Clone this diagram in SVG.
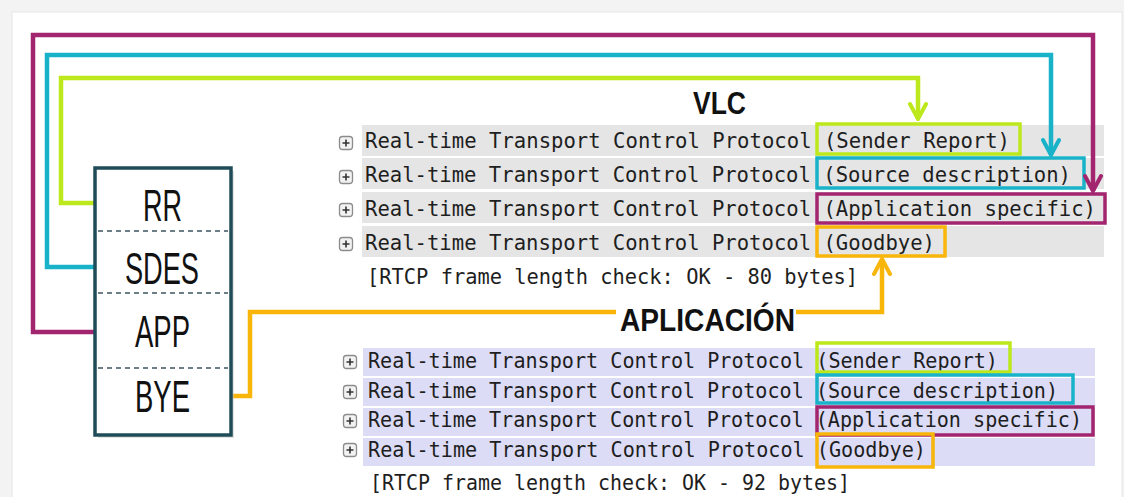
<svg xmlns="http://www.w3.org/2000/svg" width="1124" height="497" viewBox="0 0 1124 497">
<style>
.row{font-family:"DejaVu Sans Mono","Liberation Mono",monospace;font-size:21.5px;fill:#1e1e1e}
.lbl{font-family:"Liberation Sans",Arial,sans-serif;font-size:45px;fill:#111}
.title{font-family:"Liberation Sans",Arial,sans-serif;font-weight:bold;font-size:32px;fill:#111}
.conn{fill:none;stroke-width:4.5;stroke-linejoin:miter}
.hl{fill:none;stroke-width:3.5}
.vlcbg{fill:#e5e5e5}
.appbg{fill:#dcdcf6}
.sep{stroke:#6d7f86;stroke-width:2;stroke-dasharray:5 4}
</style>
<defs>
<marker id="ag" viewBox="0 0 20 20" refX="18" refY="10" markerWidth="20" markerHeight="20" markerUnits="userSpaceOnUse" orient="auto"><path d="M3,2 L18,10 L3,18" fill="none" stroke="#bde81c" stroke-width="4" stroke-linecap="round"/></marker>
<marker id="ac" viewBox="0 0 20 20" refX="18" refY="10" markerWidth="20" markerHeight="20" markerUnits="userSpaceOnUse" orient="auto"><path d="M3,2 L18,10 L3,18" fill="none" stroke="#18b2c9" stroke-width="4" stroke-linecap="round"/></marker>
<marker id="am" viewBox="0 0 20 20" refX="18" refY="10" markerWidth="20" markerHeight="20" markerUnits="userSpaceOnUse" orient="auto"><path d="M3,2 L18,10 L3,18" fill="none" stroke="#a3246f" stroke-width="4" stroke-linecap="round"/></marker>
<marker id="ao" viewBox="0 0 20 20" refX="18" refY="10" markerWidth="20" markerHeight="20" markerUnits="userSpaceOnUse" orient="auto"><path d="M3,2 L18,10 L3,18" fill="none" stroke="#f8b50a" stroke-width="4" stroke-linecap="round"/></marker>
<g id="plus">
<rect x="-6.5" y="-6.5" width="13" height="13" rx="3" fill="#f2f2f2" stroke="#8c8c8c" stroke-width="1.3"/>
<path d="M-3.5,0 H3.5 M0,-3.5 V3.5" stroke="#333" stroke-width="1.6"/>
</g>
</defs>
<rect width="1124" height="497" fill="#f3f3f3"/>
<rect x="12" y="12" width="1110" height="490" fill="#ffffff" stroke="#e6e6e6" stroke-width="1"/>

<g id="vlc-capture">
<rect class="vlcbg" x="362" y="125" width="742" height="31"/>
<rect class="vlcbg" x="362" y="158" width="742" height="31"/>
<rect class="vlcbg" x="362" y="192" width="742" height="31"/>
<rect class="vlcbg" x="362" y="226" width="742" height="31"/>
<use href="#plus" x="346" y="143"/>
<use href="#plus" x="346" y="177"/>
<use href="#plus" x="346" y="210"/>
<use href="#plus" x="346" y="244"/>
<text class="row" x="365" y="148" textLength="645" lengthAdjust="spacingAndGlyphs">Real-time Transport Control Protocol (Sender Report)</text>
<text class="row" x="365" y="182" textLength="706" lengthAdjust="spacingAndGlyphs">Real-time Transport Control Protocol (Source description)</text>
<text class="row" x="365" y="216" textLength="731" lengthAdjust="spacingAndGlyphs">Real-time Transport Control Protocol (Application specific)</text>
<text class="row" x="365" y="250" textLength="570" lengthAdjust="spacingAndGlyphs">Real-time Transport Control Protocol (Goodbye)</text>
<text class="row" x="367" y="284" textLength="491" lengthAdjust="spacingAndGlyphs">[RTCP frame length check: OK - 80 bytes]</text>
<rect class="hl" x="817" y="124" width="203" height="30" stroke="#bde81c"/>
<rect class="hl" x="817" y="158" width="267" height="30" stroke="#18b2c9"/>
<rect class="hl" x="817" y="194" width="288" height="29" stroke="#a3246f"/>
<rect class="hl" x="817" y="227" width="128" height="29" stroke="#f8b50a"/>
</g>

<g id="app-capture">
<rect class="appbg" x="363" y="348" width="732" height="28"/>
<rect class="appbg" x="363" y="378" width="732" height="28"/>
<rect class="appbg" x="363" y="408" width="732" height="28"/>
<rect class="appbg" x="363" y="438" width="732" height="28"/>
<use href="#plus" x="350" y="362"/>
<use href="#plus" x="350" y="392"/>
<use href="#plus" x="350" y="421"/>
<use href="#plus" x="350" y="450"/>
<text class="row" x="368" y="368" textLength="630" lengthAdjust="spacingAndGlyphs" style="font-size:21px">Real-time Transport Control Protocol (Sender Report)</text>
<text class="row" x="368" y="398" textLength="690" lengthAdjust="spacingAndGlyphs" style="font-size:21px">Real-time Transport Control Protocol (Source description)</text>
<text class="row" x="368" y="427" textLength="714" lengthAdjust="spacingAndGlyphs" style="font-size:21px">Real-time Transport Control Protocol (Application specific)</text>
<text class="row" x="368" y="457" textLength="558" lengthAdjust="spacingAndGlyphs" style="font-size:21px">Real-time Transport Control Protocol (Goodbye)</text>
<text class="row" x="370" y="490" textLength="480" lengthAdjust="spacingAndGlyphs" style="font-size:21px">[RTCP frame length check: OK - 92 bytes]</text>
<rect class="hl" x="817" y="343" width="193" height="29" stroke="#bde81c"/>
<rect class="hl" x="817" y="375" width="256" height="28" stroke="#18b2c9"/>
<rect class="hl" x="817" y="407" width="276" height="28" stroke="#a3246f"/>
<rect class="hl" x="817" y="434" width="116" height="33" stroke="#f8b50a"/>
</g>

<g id="connectors">
<path class="conn" d="M95,203 H61 V78 H918 V119" stroke="#bde81c" marker-end="url(#ag)"/>
<path class="conn" d="M95,267 H47 V55 H1051 V155" stroke="#18b2c9" marker-end="url(#ac)"/>
<path class="conn" d="M95,332 H33 V35 H1093 V191" stroke="#a3246f" marker-end="url(#am)"/>
<path class="conn" d="M231,396 H250 V312 H882 V259" stroke="#f8b50a" marker-end="url(#ao)"/>
</g>

<g id="title-vlc">
<text class="title" x="693" y="114" textLength="53" lengthAdjust="spacingAndGlyphs">VLC</text>
</g>
<g id="title-app">
<rect x="616" y="300" width="180" height="34" fill="#ffffff"/>
<text class="title" x="620" y="331" textLength="175" lengthAdjust="spacingAndGlyphs">APLICACIÓN</text>
</g>

<g id="rtcp-box">
<rect x="98" y="171" width="136" height="267" fill="#c8c8c8" opacity="0.5"/>
<rect x="95" y="168" width="136" height="267" fill="#ffffff" stroke="#1f4c58" stroke-width="3.5"/>
<line class="sep" x1="98" y1="231" x2="228" y2="231"/>
<line class="sep" x1="98" y1="293" x2="228" y2="293"/>
<line class="sep" x1="98" y1="368" x2="228" y2="368"/>
<text class="lbl" x="143" y="221" textLength="39" lengthAdjust="spacingAndGlyphs">RR</text>
<text class="lbl" x="125" y="284" textLength="74" lengthAdjust="spacingAndGlyphs">SDES</text>
<text class="lbl" x="135" y="347" textLength="55" lengthAdjust="spacingAndGlyphs">APP</text>
<text class="lbl" x="135" y="412" textLength="55" lengthAdjust="spacingAndGlyphs">BYE</text>
</g>
</svg>
